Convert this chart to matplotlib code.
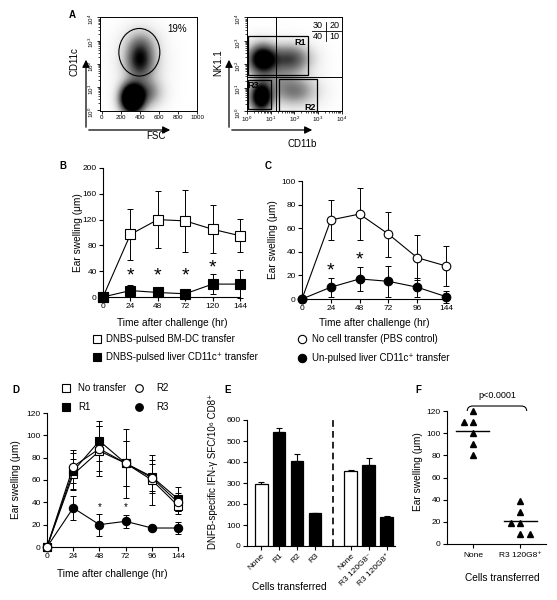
import numpy as np
import matplotlib
matplotlib.use('Agg')
import matplotlib.pyplot as plt
from matplotlib.patches import Ellipse, Rectangle, FancyArrowPatch, PathPatch
from matplotlib.path import Path
from matplotlib.lines import Line2D

plt.rcParams['font.family'] = ['Liberation Sans', 'DejaVu Sans']
plt.rcParams['mathtext.fontset'] = 'custom'
plt.rcParams['mathtext.rm'] = 'Liberation Sans'
plt.rcParams['mathtext.it'] = 'Liberation Sans:italic'

# ---- data ----
# A: flow dot plots, density clusters (x, y, sx, sy, weight); y (and x on right) in log10 units
fsc_clusters = [(320, 0.50, 75, 0.38, 2.5), (470, 0.75, 100, 0.38, 0.45),
                (400, 2.20, 85, 0.50, 0.7), (410, 2.00, 130, 0.70, 0.3),
                (420, 2.90, 110, 0.40, 0.15)]
fsc_gate = (395, 2.5, 430, 2.05)          # centre x, centre y, width, height
fsc_pct = '19%'
nk_clusters = [(0.65, 2.20, 0.38, 0.38, 1.4), (1.80, 2.20, 0.55, 0.38, 0.7),
               (0.60, 0.60, 0.30, 0.40, 1.5), (2.00, 0.85, 0.60, 0.40, 0.45),
               (1.10, 1.40, 0.60, 0.40, 0.2)]
nk_split = (1.23, 1.46)
nk_gates = {'R1': (0.04, 2.60, 1.52, 3.21), 'R2': (1.36, 2.97, 0.02, 1.36),
            'R3': (0.04, 1.00, 0.07, 1.34)}
quad_pct = ['30', '20', '40', '10']

# B
b_times = ['0', '24', '48', '72', '120', '144']
b_bmdc = [0, 97, 120, 118, 105, 95]
b_bmdc_err = [0, 40, 44, 48, 37, 26]
b_liver = [0, 10, 7, 5, 20, 20]
b_liver_err = [0, 8, 4, 4, 15, 22]
b_stars = [(1, 33), (2, 33), (3, 32), (4, 45)]

# C
c_times = ['0', '24', '48', '72', '96', '144']
c_pbs = [0, 67, 72, 55, 35, 28]
c_pbs_err = [0, 17, 22, 19, 19, 17]
c_unpulsed = [0, 10, 17, 15, 10, 2]
c_unpulsed_err = [0, 8, 10, 13, 8, 5]
c_stars = [(1, 24), (2, 33)]

# D
d_times = ['0', '24', '48', '72', '96', '144']
d_none = [0, 65, 86, 75, 60, 37]
d_none_err = [0, 14, 22, 31, 22, 7]
d_r1 = [0, 68, 95, 75, 63, 43]
d_r1_err = [0, 16, 18, 20, 15, 11]
d_r2 = [0, 72, 88, 75, 62, 40]
d_r2_err = [0, 15, 20, 20, 12, 8]
d_r3 = [0, 35, 20, 23, 17, 17]
d_r3_err = [0, 11, 10, 6, 3, 5]
d_stars = [(2, 36), (3, 36)]

# E
e_groups = ['None', 'R1', 'R2', 'R3', 'None', 'R3 120G8\u207b', 'R3 120G8\u207a']
e_vals = [295, 545, 405, 155, 355, 385, 140]
e_err = [10, 15, 35, 3, 5, 33, 5]
e_filled = [False, True, True, True, False, True, True]

# F
f_groups = ['None', 'R3 120G8\u207a']
f_none = [120, 110, 110, 100, 90, 80]
f_r3 = [39, 29, 19, 19, 9, 9]
f_pval = 'p<0.0001'

# ---- layout helpers (pixel coordinates, origin top-left) ----
W, H = 557, 600
fig = plt.figure(figsize=(W / 100, H / 100), dpi=100)


def px_axes(x0, y0, x1, y1):
    return fig.add_axes([x0 / W, 1 - y1 / H, (x1 - x0) / W, (y1 - y0) / H])


def ftext(x, y, s, **kw):
    fig.text(x / W, 1 - y / H, s, **kw)


def prism(ax):
    for s in ['top', 'right']:
        ax.spines[s].set_visible(False)
    for s in ['left', 'bottom']:
        ax.spines[s].set_linewidth(0.8)
    ax.tick_params(direction='out', length=3, width=0.8, labelsize=6, pad=1.5)


def series(ax, y, err, marker, filled, ms):
    x = np.arange(len(y))
    ax.errorbar(x, y, yerr=err, fmt='none', ecolor='k', elinewidth=0.7,
                capsize=2.5, capthick=0.7, clip_on=False, zorder=2)
    ax.plot(x, y, '-', color='k', lw=0.8, marker=marker, ms=ms,
            mfc='k' if filled else 'white', mec='k', mew=0.8,
            clip_on=False, zorder=3)


def density(ax, clusters, xr, yr):
    xs = np.linspace(xr[0], xr[1], 220)
    ys = np.linspace(yr[0], yr[1], 220)
    X, Y = np.meshgrid(xs, ys)
    Z = np.zeros_like(X)
    for cx, cy, sx, sy, w in clusters:
        Z += w * np.exp(-0.5 * ((X - cx) / sx) ** 2 - 0.5 * ((Y - cy) / sy) ** 2)
    Z = np.clip(Z, 0, 1) ** 0.65
    ax.imshow(Z, extent=[xr[0], xr[1], yr[0], yr[1]], origin='lower',
              cmap='Greys', vmin=0, vmax=1, aspect='auto', interpolation='bilinear')


def log_ticks(axis, rot=0):
    axis.set_ticks(range(5))
    axis.set_ticklabels([r'$10^{%d}$' % d for d in range(5)], rotation=rot)
    axis.set_ticks([d + np.log10(k) for d in range(4) for k in range(2, 10)], minor=True)


def fig_arrow(p0, p1):
    fig.add_artist(FancyArrowPatch((p0[0] / W, 1 - p0[1] / H), (p1[0] / W, 1 - p1[1] / H),
                                   transform=fig.transFigure, arrowstyle='-|>',
                                   mutation_scale=11, lw=0.9, color='k'))


def fig_marker(x, y, marker, filled, ms):
    fig.add_artist(Line2D([x / W], [1 - y / H], transform=fig.transFigure,
                          marker=marker, ms=ms, mfc='k' if filled else 'white',
                          mec='k', mew=0.8, ls='none'))


# ---- A left: CD11c vs FSC ----
ax = px_axes(100, 17, 197, 111)
density(ax, fsc_clusters, (-18, 1000), (-0.03, 4.02))
ax.set_xlim(-18, 1000)
ax.set_ylim(-0.03, 4.02)
ax.set_xticks(range(0, 1001, 200))
ax.set_xticklabels([str(v) for v in range(0, 1001, 200)])
log_ticks(ax.yaxis, rot=90)
ax.tick_params(labelsize=4.5, length=2, width=0.6, pad=1)
ax.tick_params(which='minor', length=1.2, width=0.5)
for s in ax.spines.values():
    s.set_linewidth(0.7)
gx, gy, gw, gh = fsc_gate
ax.add_patch(Ellipse((gx, gy), gw, gh, fill=False, lw=0.8, ec='k'))
ax.text(790, 3.52, fsc_pct, fontsize=7, ha='center', va='center')

# ---- A right: NK1.1 vs CD11b ----
ax = px_axes(247, 17, 342, 111)
density(ax, nk_clusters, (0, 4.02), (0, 4.02))
ax.set_xlim(0, 4.02)
ax.set_ylim(0, 4.02)
log_ticks(ax.xaxis)
log_ticks(ax.yaxis, rot=90)
ax.tick_params(labelsize=4.5, length=2, width=0.6, pad=1)
ax.tick_params(which='minor', length=1.2, width=0.5)
for s in ax.spines.values():
    s.set_linewidth(0.7)
ax.axvline(nk_split[0], color='k', lw=0.7)
ax.axhline(nk_split[1], color='k', lw=0.7)
for name, (x0, x1, y0, y1) in nk_gates.items():
    ax.add_patch(Rectangle((x0, y0), x1 - x0, y1 - y0, fill=False, lw=0.9, ec='k'))
ax.text(2.26, 2.91, 'R1', fontsize=6.5, fontweight='bold', ha='center', va='center')
ax.text(2.68, 0.17, 'R2', fontsize=6.5, fontweight='bold', ha='center', va='center')
ax.text(0.26, 1.07, 'R3', fontsize=6.5, fontweight='bold', ha='center', va='center')
ax.plot([3.35, 3.35], [3.0, 3.81], color='k', lw=0.6)
ax.plot([2.75, 3.97], [3.41, 3.41], color='k', lw=0.6)
for (tx, ty), s in zip([(2.98, 3.67), (3.7, 3.67), (2.98, 3.17), (3.7, 3.17)], quad_pct):
    ax.text(tx, ty, s, fontsize=6.5, ha='center', va='center')

ftext(72, 15, 'A', fontsize=7, fontweight='bold', ha='center', va='center')
ftext(75, 62, 'CD11c', fontsize=7, rotation=90, ha='center', va='center')
ftext(156, 136, 'FSC', fontsize=7, ha='center', va='center')
ftext(218, 63, 'NK1.1', fontsize=7, rotation=90, ha='center', va='center')
ftext(302, 144, 'CD11b', fontsize=7, ha='center', va='center')
fig_arrow((86, 130), (86, 57))
fig_arrow((86, 130), (173, 130))
fig_arrow((229, 130), (229, 57))
fig_arrow((229, 130), (315, 130))

# ---- B ----
ax = px_axes(103, 168, 240, 297)
prism(ax)
series(ax, b_bmdc, b_bmdc_err, 's', False, 6.5)
series(ax, b_liver, b_liver_err, 's', True, 6.5)
for i, y in b_stars:
    ax.text(i, y, '*', fontsize=14, ha='center', va='center')
ax.set_xlim(0, 5)
ax.set_ylim(0, 200)
ax.set_yticks(range(0, 201, 40))
ax.set_xticks(range(len(b_times)))
ax.set_xticklabels(b_times)
ftext(63, 166, 'B', fontsize=7, fontweight='bold', ha='center', va='center')
ftext(78, 233, 'Ear swelling (\u03bcm)', fontsize=7.3, rotation=90, ha='center', va='center')
ftext(172, 323, 'Time after challenge (hr)', fontsize=7.3, ha='center', va='center')
fig_marker(97, 339, 's', False, 6)
fig_marker(97, 357, 's', True, 6)
ftext(106, 339, 'DNBS-pulsed BM-DC transfer', fontsize=7, va='center')
ftext(106, 357, 'DNBS-pulsed liver CD11c\u207a transfer', fontsize=7, va='center')

# ---- C ----
ax = px_axes(302, 181, 446, 299)
prism(ax)
series(ax, c_pbs, c_pbs_err, 'o', False, 6.2)
series(ax, c_unpulsed, c_unpulsed_err, 'o', True, 6.2)
for i, y in c_stars:
    ax.text(i, y, '*', fontsize=14, ha='center', va='center')
ax.set_xlim(0, 5)
ax.set_ylim(0, 100)
ax.set_yticks(range(0, 101, 20))
ax.set_xticks(range(len(c_times)))
ax.set_xticklabels(c_times)
ftext(268, 166, 'C', fontsize=7, fontweight='bold', ha='center', va='center')
ftext(273, 240, 'Ear swelling (\u03bcm)', fontsize=7.3, rotation=90, ha='center', va='center')
ftext(374, 323, 'Time after challenge (hr)', fontsize=7.3, ha='center', va='center')
fig_marker(302, 339, 'o', False, 6)
fig_marker(302, 358, 'o', True, 6)
ftext(312, 339, 'No cell transfer (PBS control)', fontsize=7, va='center')
ftext(312, 358, 'Un-pulsed liver CD11c\u207a transfer', fontsize=7, va='center')

# ---- D ----
ax = px_axes(47, 413, 178, 547)
prism(ax)
series(ax, d_r3, d_r3_err, 'o', True, 6)
series(ax, d_none, d_none_err, 's', False, 6)
series(ax, d_r1, d_r1_err, 's', True, 6)
series(ax, d_r2, d_r2_err, 'o', False, 6)
for i, y in d_stars:
    ax.text(i, y, '*', fontsize=7, ha='center', va='center')
ax.set_xlim(0, 5)
ax.set_ylim(0, 120)
ax.set_yticks(range(0, 121, 20))
ax.set_xticks(range(len(d_times)))
ax.set_xticklabels(d_times)
ftext(16, 390, 'D', fontsize=7, fontweight='bold', ha='center', va='center')
ftext(16, 480, 'Ear swelling (\u03bcm)', fontsize=7.3, rotation=90, ha='center', va='center')
ftext(112, 574, 'Time after challenge (hr)', fontsize=7.3, ha='center', va='center')
fig_marker(66, 388, 's', False, 5.5)
fig_marker(66, 407, 's', True, 5.5)
fig_marker(139, 388, 'o', False, 5.5)
fig_marker(139, 407, 'o', True, 5.5)
ftext(78, 388, 'No transfer', fontsize=7, va='center')
ftext(78, 407, 'R1', fontsize=7, va='center')
ftext(156, 388, 'R2', fontsize=7, va='center')
ftext(156, 407, 'R3', fontsize=7, va='center')

# ---- E ----
ax = px_axes(247, 420, 395, 546)
prism(ax)
e_pos = [i if i < 4 else i + 1 for i in range(len(e_vals))]
ax.bar(e_pos, e_vals, width=0.72, color=['k' if f else 'white' for f in e_filled],
       edgecolor='k', linewidth=0.9, zorder=2)
ax.errorbar(e_pos, e_vals, yerr=[[0] * len(e_err), e_err], fmt='none', ecolor='k',
            elinewidth=0.8, capsize=2.5, capthick=0.8, zorder=1)
ax.axvline(4, ymin=0, ymax=1.02, color='k', ls=(0, (4, 2.5)), lw=1.2, clip_on=False)
ax.set_xlim(-0.78, 7.45)
ax.set_ylim(0, 600)
ax.set_yticks(range(0, 601, 100))
ax.set_xticks(e_pos)
ax.set_xticklabels(e_groups, rotation=45, ha='right', rotation_mode='anchor')
ftext(228, 390, 'E', fontsize=7, fontweight='bold', ha='center', va='center')
ftext(213, 471, 'DNFB-specific IFN-\u03b3 SFC/10\u2076 CD8\u207a', fontsize=7,
      rotation=90, ha='center', va='center')
ftext(289, 587, 'Cells transferred', fontsize=7.3, ha='center', va='center')

# ---- F ----
ax = px_axes(447, 411, 546, 544)
prism(ax)
f_jitter = [[0, -0.2, 0, 0, 0, 0], [0, 0, -0.2, 0, 0, 0.2]]
for k, vals in enumerate([f_none, f_r3]):
    ax.plot(np.array(f_jitter[k]) + k, vals, '^', color='k', ms=4.2, ls='none', clip_on=False)
    m = np.mean(vals)
    ax.plot([k - 0.35, k + 0.35], [m, m], color='k', lw=1.0)
ax.set_xlim(-0.55, 1.55)
ax.set_ylim(0, 120)
ax.set_yticks(range(0, 121, 20))
ax.set_xticks([0, 1])
ax.set_xticklabels(f_groups)
ax.tick_params(axis='x', pad=3)
br = Path([(-0.12, 120), (-0.12, 124.5), (0.0, 124.5), (1.02, 124.5), (1.14, 124.5), (1.14, 120)],
          [Path.MOVETO, Path.CURVE3, Path.CURVE3, Path.LINETO, Path.CURVE3, Path.CURVE3])
ax.add_patch(PathPatch(br, fill=False, lw=0.8, ec='k', clip_on=False))
ax.text(0.51, 134, f_pval, fontsize=6.5, ha='center', va='center')
ftext(418, 390, 'F', fontsize=7, fontweight='bold', ha='center', va='center')
ftext(418, 472, 'Ear swelling (\u03bcm)', fontsize=7.3, rotation=90, ha='center', va='center')
ftext(502, 578, 'Cells transferred', fontsize=7.3, ha='center', va='center')

fig.savefig('out.png', dpi=100)
